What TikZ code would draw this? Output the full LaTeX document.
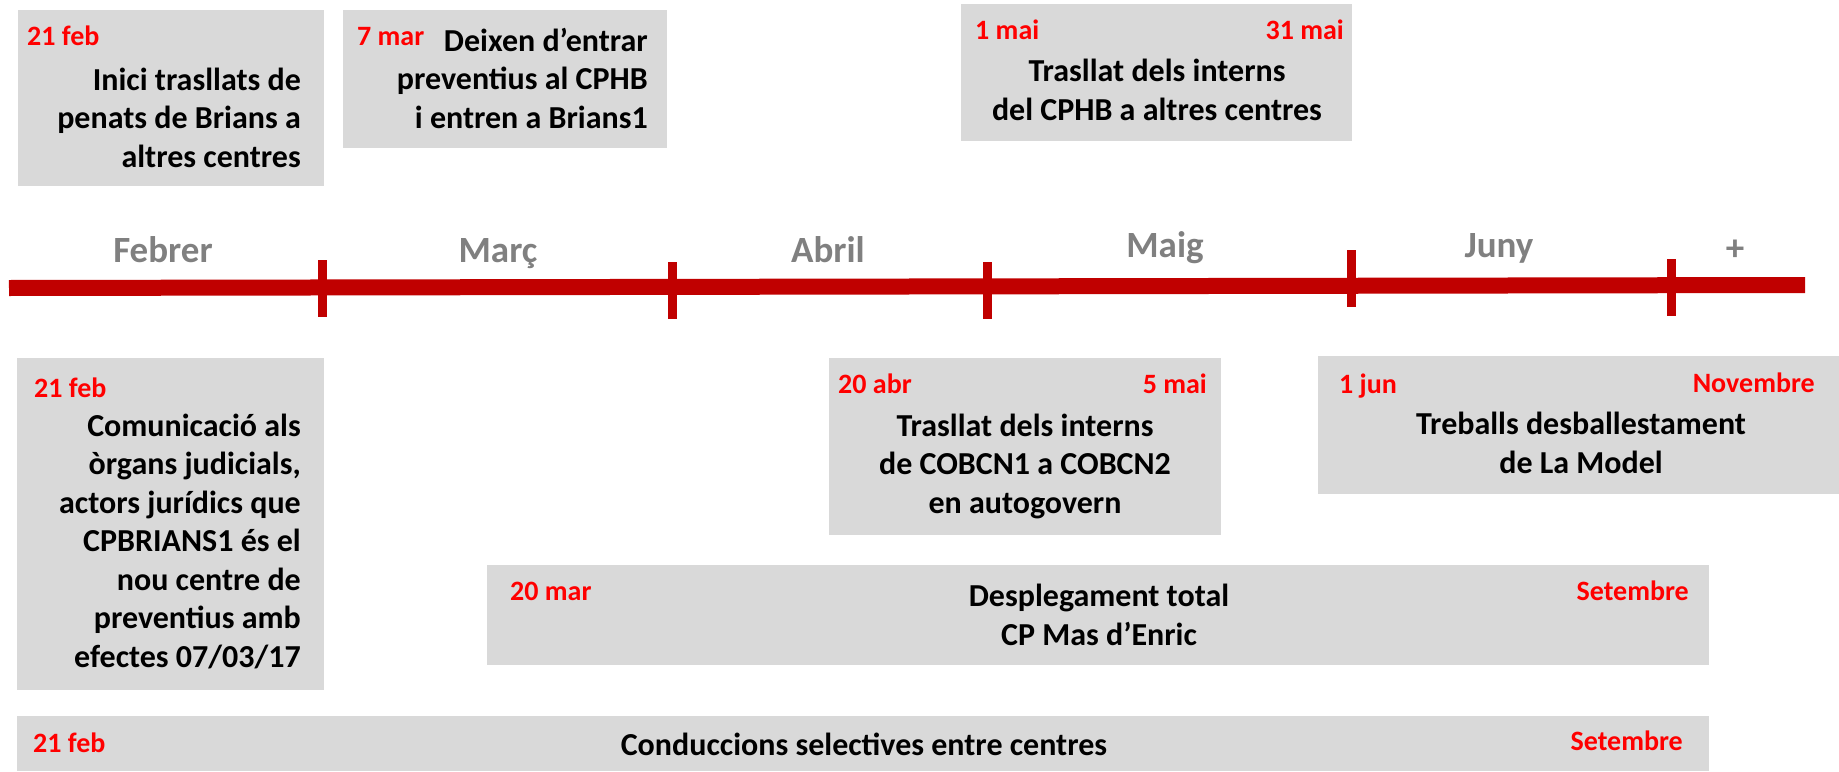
\documentclass[tikz,border=0pt]{standalone}
\usepackage{fontspec}
\setmainfont{Carlito}
\definecolor{boxgray}{HTML}{D9D9D9}
\definecolor{datered}{HTML}{FF0000}
\definecolor{barred}{HTML}{C00000}
\definecolor{monthgray}{HTML}{808080}
\begin{document}
\begin{tikzpicture}[x=1pt,y=-1pt, line join=round,
	evbox/.style={fill=boxgray, draw=none, inner sep=0pt, anchor=north west},
	date/.style={text=datered, inner sep=0pt, font=\fontsize{28}{32}\selectfont\bfseries},
	desc/.style={inner sep=0pt, font=\fontsize{32}{38.5}\selectfont\bfseries},
	month/.style={text=monthgray, inner sep=0pt, anchor=base, font=\fontsize{37}{40}\selectfont\bfseries},
	tick/.style={draw=barred, line width=9pt}]
	\useasboundingbox (0,0) rectangle (1839,771);
	% caixes de dalt
	\node[evbox, minimum width=306, minimum height=176] (trasllatsBrians) at (18,10) {};
	\node[evbox, minimum width=324, minimum height=138] (preventius) at (343,10) {};
	\node[evbox, minimum width=391, minimum height=137] (internsCPHB) at (961,4) {};
	% caixes de baix
	\node[evbox, minimum width=307, minimum height=332] (comunicacio) at (17,358) {};
	\node[evbox, minimum width=392, minimum height=177] (internsCOBCN) at (829,358) {};
	\node[evbox, minimum width=521, minimum height=138] (model) at (1318,356) {};
	\node[evbox, minimum width=1222, minimum height=100] (masEnric) at (487,565) {};
	\node[evbox, minimum width=1692, minimum height=55] (conduccions) at (17,716) {};
	% linia de temps
	\draw[draw=barred, line width=16pt] (9,288) -- (1805,285);
	\foreach \x/\y in {322/260, 672/262, 987/262, 1351/250, 1671/259}
		\draw[tick] (\x,\y) -- ++(0,57);
	\node[month] (febrer) at (163,262) {Febrer};
	\node[month] (marc) at (498,262) {Març};
	\node[month] (abril) at (828,262) {Abril};
	\node[month] (maig) at (1165,257) {Maig};
	\node[month] (juny) at (1499,257) {Juny};
	\node[month] (mes) at (1735,260) {+};
	% textos (base = darrera linia)
	\node[date, anchor=base west] (d1) at (27,45) {21 feb};
	\node[desc, anchor=base east, align=right] (t1) at (301,167) {Inici trasllats de\\penats de Brians a\\altres centres};
	\node[date, anchor=base west] (d2) at (357,45) {7 mar};
	\node[desc, anchor=base east, align=right] (t2) at (648,128) {Deixen d’entrar\\preventius al CPHB\\i entren a Brians1};
	\node[date, anchor=base west] (d3) at (975,39) {1 mai};
	\node[date, anchor=base east] (d3b) at (1344,39) {31 mai};
	\node[desc, anchor=base, align=center] (t3) at (1157,120) {Trasllat dels interns\\del CPHB a altres centres};
	\node[date, anchor=base west] (d4) at (34,397) {21 feb};
	\node[desc, anchor=base east, align=right] (t4) at (301,667) {Comunicació als\\òrgans judicials,\\actors jurídics que\\CPBRIANS1 és el\\nou centre de\\preventius amb\\efectes 07/03/17};
	\node[date, anchor=base west] (d5) at (838,393) {20 abr};
	\node[date, anchor=base east] (d5b) at (1207,393) {5 mai};
	\node[desc, anchor=base, align=center] (t5) at (1025,513) {Trasllat dels interns\\de COBCN1 a COBCN2\\en autogovern};
	\node[date, anchor=base west] (d6) at (1339,393) {1 jun};
	\node[date, anchor=base east] (d6b) at (1815,392) {Novembre};
	\node[desc, anchor=base, align=center] (t6) at (1581,473) {Treballs desballestament\\de La Model};
	\node[date, anchor=base west] (d7) at (510,600) {20 mar};
	\node[date, anchor=base east] (d7b) at (1689,600) {Setembre};
	\node[desc, anchor=base, align=center] (t7) at (1099,645) {Desplegament total\\CP Mas d’Enric};
	\node[date, anchor=base west] (d8) at (33,752) {21 feb};
	\node[date, anchor=base east] (d8b) at (1683,750) {Setembre};
	\node[desc, anchor=base] (t8) at (864,755) {Conduccions selectives entre centres};
\end{tikzpicture}
\end{document}
